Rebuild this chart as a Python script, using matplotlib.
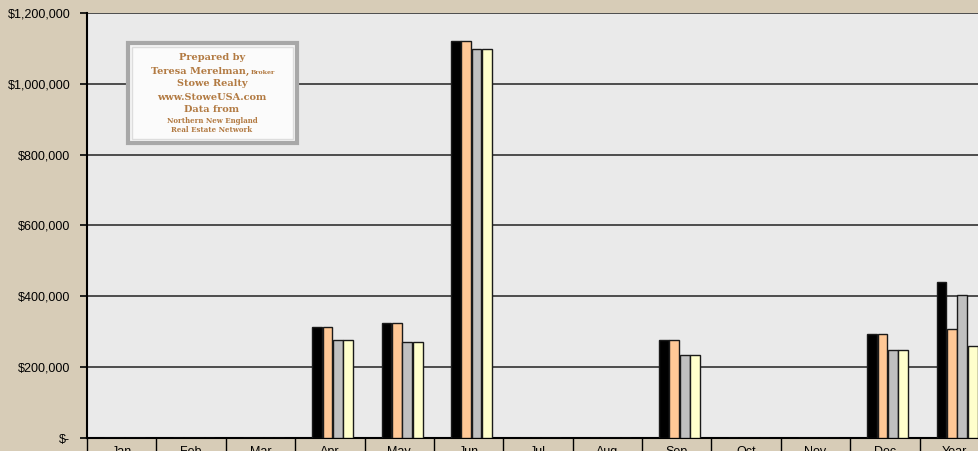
import numpy as np
import matplotlib.pyplot as plt
from matplotlib.patches import Rectangle

months = ["Jan", "Feb", "Mar", "Apr", "May", "Jun", "Jul", "Aug", "Sep", "Oct", "Nov", "Dec", "Year"]
# four series per month (0 = no sale)
s1 = [0, 0, 0, 314000, 324000, 1120000, 0, 0, 277000, 0, 0, 294000, 441000]
s2 = [0, 0, 0, 314000, 324000, 1120000, 0, 0, 277000, 0, 0, 294000, 307000]
s3 = [0, 0, 0, 277000, 272000, 1097000, 0, 0, 234000, 0, 0, 248000, 404000]
s4 = [0, 0, 0, 277000, 272000, 1097000, 0, 0, 234000, 0, 0, 248000, 260000]
yticks = [0, 200000, 400000, 600000, 800000, 1000000, 1200000]
ytick_labels = ["$-", "$200,000", "$400,000", "$600,000", "$800,000", "$1,000,000", "$1,200,000"]

series = [s1, s2, s3, s4]
colors = ["#000000", "#ffc896", "#c0c0c0", "#ffffcc"]

plt.rcParams['font.family'] = ['Liberation Sans', 'DejaVu Sans']

fig = plt.figure(figsize=(9.79, 4.51), dpi=100)
fig.patch.set_facecolor("#d7ccb7")
ax = fig.add_axes([87/979, 13/451, 902/979, 425/451])
ax.set_facecolor("#eaeaea")

x = np.arange(len(months))
w = 0.15
for i, (vals, c) in enumerate(zip(series, colors)):
    ax.bar(x + (i - 1.5) * w + 0.04, vals, width=w * 0.94, color=c, edgecolor="#1a1a1a",
           linewidth=1.0, zorder=3)

ax.set_xlim(-0.5, len(months) - 0.5)
ax.set_ylim(0, 1200000)
ax.set_yticks(yticks)
ax.set_yticklabels(ytick_labels, fontsize=9)
ax.yaxis.grid(True, color="#222222", linewidth=1.1, zorder=1)
ax.set_axisbelow(True)
ax.tick_params(axis='y', direction='out', length=5, width=1.2, pad=7)

# category boundaries as long ticks, labels centred between them
ax.set_xticks(np.arange(len(months) + 1) - 0.5)
ax.set_xticklabels([])
ax.tick_params(axis='x', which='major', direction='out', length=15, width=1.0)
ax.set_xticks(x, minor=True)
ax.set_xticklabels(months, minor=True, fontsize=9)
ax.tick_params(axis='x', which='minor', length=0, pad=6)

for side in ["top", "right"]:
    ax.spines[side].set_visible(False)
ax.spines["left"].set_linewidth(1.5)
ax.spines["bottom"].set_linewidth(1.5)

# credit box
bx, by, bw, bh = 128/979, (451-143)/451, 169/979, 100/451
fig.patches.append(Rectangle((bx, by), bw, bh, transform=fig.transFigure,
                             facecolor="#f6f6f6", edgecolor="#a8a8a8", linewidth=3, zorder=5))
fig.patches.append(Rectangle((bx + 4/979, by + 4/451), bw - 8/979, bh - 8/451,
                             transform=fig.transFigure, facecolor="#fbfbfb",
                             edgecolor="#dddddd", linewidth=1, zorder=5))
brown = "#b27a42"
cx = 212/979
lines = [("Prepared by", 57, 7), ("Teresa Merelman,", 71, 7), ("Stowe Realty", 84, 7),
         ("www.StoweUSA.com", 97, 7), ("Data from", 110, 7),
         ("Northern New England", 121, 5), ("Real Estate Network", 130, 5)]
for txt, yy, fs in lines:
    xx = cx - 12/979 if txt.startswith("Teresa") else cx
    fig.text(xx, 1 - yy/451, txt, ha="center", va="center", fontsize=fs,
             fontweight="bold", color=brown, family="DejaVu Serif", zorder=6)
fig.text(263/979, 1 - 72/451, "Broker", ha="center", va="center", fontsize=4.5,
         fontweight="bold", color=brown, family="DejaVu Serif", zorder=6)

fig.savefig("out.png", dpi=100, facecolor=fig.get_facecolor())
